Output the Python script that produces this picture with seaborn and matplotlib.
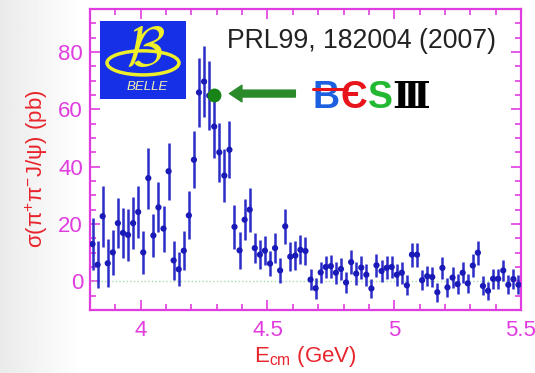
import numpy as np
import pandas as pd
import matplotlib
matplotlib.use("Agg")
import matplotlib.pyplot as plt
import seaborn as sns
from matplotlib.patches import Rectangle, Ellipse
from matplotlib.lines import Line2D
from matplotlib.ticker import FixedLocator, FixedFormatter, MultipleLocator

# Belle pi+pi- J/psi cross section, 20 MeV bins
energy = [3.81, 3.83, 3.85, 3.87, 3.89, 3.91, 3.93, 3.95, 3.97, 3.99,
          4.01, 4.03, 4.05, 4.07, 4.09, 4.11, 4.13, 4.15, 4.17, 4.19,
          4.21, 4.23, 4.25, 4.27, 4.29, 4.31, 4.33, 4.35, 4.37, 4.39,
          4.41, 4.43, 4.45, 4.47, 4.49, 4.51, 4.53, 4.55, 4.57, 4.59,
          4.61, 4.63, 4.65, 4.67, 4.69, 4.71, 4.73, 4.75, 4.77, 4.79,
          4.81, 4.83, 4.85, 4.87, 4.89, 4.91, 4.93, 4.95, 4.97, 4.99,
          5.01, 5.03, 5.05, 5.07, 5.09, 5.11, 5.13, 5.15, 5.17, 5.19,
          5.21, 5.23, 5.25, 5.27, 5.29, 5.31, 5.33, 5.35, 5.37, 5.39,
          5.41, 5.43, 5.45, 5.47, 5.49]
sigma = [13.0, 5.8, 22.7, 6.3, 10.1, 20.3, 16.9, 16.2, 20.3, 24.2,
         10.1, 36.0, 16.0, 25.8, 18.4, 38.4, 7.3, 4.2, 10.7, 23.0,
         42.4, 65.9, 69.7, 64.8, 54.0, 45.0, 36.9, 45.9, 19.0, 10.8,
         21.5, 25.0, 11.6, 9.3, 10.7, 6.2, 11.6, 3.8, 19.2, 8.6,
         9.0, 11.0, 10.6, 0.6, -2.4, 3.1, 5.0, 5.3, 3.0, 4.3,
         -0.4, 6.7, 2.7, 4.8, 2.3, -2.5, 5.6, 3.6, 4.7, 5.0,
         2.3, 3.0, -1.4, 9.3, 9.3, 0.4, 1.8, 1.5, -3.8, 4.7,
         -2.1, 1.3, -1.0, 3.0, -0.7, 5.5, 10.0, -1.6, -3.3, 0.9,
         0.9, 3.8, -1.2, 0.8, -1.2]
sigma_err = [9.0, 8.3, 10.6, 8.4, 7.8, 8.8, 8.7, 9.2, 9.1, 9.1,
             7.5, 10.6, 7.4, 8.7, 8.0, 10.0, 6.7, 6.0, 6.7, 8.4,
             9.9, 11.9, 12.4, 11.9, 11.0, 10.2, 9.3, 10.0, 7.7, 6.5,
             7.1, 7.7, 5.3, 5.0, 5.0, 4.5, 5.2, 4.3, 6.1, 5.0,
             5.0, 5.0, 4.8, 3.6, 3.6, 3.8, 4.0, 4.0, 3.8, 4.0,
             3.5, 4.2, 4.0, 4.0, 3.8, 3.4, 4.0, 4.0, 4.0, 4.0,
             3.8, 3.8, 3.5, 4.2, 4.2, 3.5, 3.6, 3.6, 3.3, 3.8,
             3.4, 3.6, 3.4, 3.7, 3.4, 3.9, 4.2, 3.3, 3.2, 3.5,
             3.5, 3.7, 3.3, 3.5, 3.3]

# BESIII measurement highlighted with an arrow
besiii_energy = 4.29
besiii_sigma = 65.0

x_ticks = [4.0, 4.5, 5.0, 5.5]
x_tick_labels = ["4", "4.5", "5", "5.5"]
y_ticks = [0, 20, 40, 60, 80]
y_tick_labels = ["0", "20", "40", "60", "80"]

MAGENTA = "#e03ce0"
RED = "#e8242c"
BAR_BLUE = "#2c2cc8"
DOT_BLUE = "#1a1ab8"

sns.set_theme(style="ticks")
plt.rcParams["font.family"] = ["Liberation Sans", "DejaVu Sans"]
plt.rcParams["mathtext.fontset"] = "custom"
plt.rcParams["mathtext.rm"] = "Liberation Sans"
plt.rcParams["mathtext.it"] = "Liberation Sans:italic"
plt.rcParams["mathtext.bf"] = "Liberation Sans:bold"

fig = plt.figure(figsize=(5.35, 3.73), dpi=100, facecolor="white")

# soft grey shading along the left edge of the slide
bg = fig.add_axes([0, 0, 1, 1], zorder=-10)
gx = np.linspace(0, 1, 300)
shade = 1.0 - 0.08 * np.clip(1 - gx / 0.15, 0, 1)
bg.imshow(np.tile(shade, (10, 1)), extent=[0, 1, 0, 1], aspect="auto",
          cmap="gray", vmin=0, vmax=1)
bg.set_axis_off()

ax = fig.add_axes([0.1682, 0.1689, 0.8056, 0.8070])
ax.set_facecolor("white")

df = pd.DataFrame({"E": energy, "sigma": sigma, "err": sigma_err})

ax.axhline(0, color="#a6dca6", lw=1.0, ls=(0, (1, 1.6)), zorder=1)
ax.errorbar(df["E"], df["sigma"], yerr=df["err"], xerr=0.006, fmt="none",
            ecolor=BAR_BLUE, elinewidth=1.8, capsize=0, zorder=2)
sns.scatterplot(data=df, x="E", y="sigma", ax=ax, color=DOT_BLUE, s=20,
                edgecolor="none", zorder=3, legend=False)

ax.set_xlim(3.8, 5.5)
ax.set_ylim(-10, 95)

ax.xaxis.set_major_locator(FixedLocator(x_ticks))
ax.xaxis.set_major_formatter(FixedFormatter(x_tick_labels))
ax.xaxis.set_minor_locator(MultipleLocator(0.1))
ax.yaxis.set_major_locator(FixedLocator(y_ticks))
ax.yaxis.set_major_formatter(FixedFormatter(y_tick_labels))
ax.yaxis.set_minor_locator(MultipleLocator(5))

ax.tick_params(which="both", direction="in", top=True, right=True,
               colors=MAGENTA, labelsize=16)
ax.tick_params(which="major", length=7.5, width=1.2)
ax.tick_params(which="minor", length=4, width=1.2)
ax.tick_params(axis="x", which="both", pad=7)
ax.tick_params(axis="y", which="both", pad=5)
for spine in ax.spines.values():
    spine.set_color(MAGENTA)
    spine.set_linewidth(1.6)

ax.set_ylabel(r"$\mathregular{\sigma(\pi^{+}\pi^{-}J/\psi)}$ (pb)",
              color=RED, fontsize=16)
ax.yaxis.set_label_coords(-0.093, 0.47)
ax.set_xlabel(r"E$_{\mathregular{cm}}$ (GeV)", color=RED, fontsize=16,
              labelpad=2)

# BESIII point and arrow
ax.plot([besiii_energy], [besiii_sigma], "o", color="#188418", ms=10,
        mec="none", zorder=5)
ax.annotate("", xy=(4.35, besiii_sigma + 0.5), xytext=(4.61, besiii_sigma + 0.5),
            arrowprops=dict(arrowstyle="simple,head_length=0.9,head_width=1.2,tail_width=0.5",
                            color="#2a8a2a", mutation_scale=10, shrinkA=0, shrinkB=0),
            zorder=5)

ax.text(0.318, 0.893, "PRL99, 182004 (2007)", transform=ax.transAxes,
        fontsize=19.2, color="#222222", ha="left", va="center")

# Belle logo
ax.add_patch(Rectangle((0.0232, 0.701), 0.1995, 0.259, transform=ax.transAxes,
                       facecolor="#1530e6", edgecolor="none", zorder=6))
ax.add_patch(Ellipse((0.123, 0.821), 0.167, 0.080, transform=ax.transAxes,
                     facecolor="none", edgecolor="#eeee2a", lw=2.5, zorder=7))
ax.text(0.128, 0.857, r"$\mathcal{B}$", transform=ax.transAxes,
        math_fontfamily="cm", fontsize=40, color="#eeee2a",
        ha="center", va="center", zorder=7)
ax.text(0.132, 0.742, "BELLE", transform=ax.transAxes, fontsize=9.5,
        style="italic", color="#f2eeb0", ha="center", va="center", zorder=7)

# BESIII logo
logo_font = ["Liberation Sans", "DejaVu Sans"]
ax.add_line(Line2D([0.518, 0.596], [0.733, 0.733], transform=ax.transAxes,
                   color="#e8141c", lw=2.2, zorder=8))
for letter, xpos, col, fam in [("B", 0.547, "#1c60e0", logo_font),
                               ("\u0404", 0.612, "#e8141c", logo_font),
                               ("S", 0.674, "#22b832", logo_font),
                               ("\u2162", 0.746, "black", ["DejaVu Serif", "DejaVu Sans"])]:
    ax.text(xpos, 0.671, letter, transform=ax.transAxes, fontsize=27,
            fontweight="bold", family=fam, color=col, ha="center",
            va="baseline", zorder=7)

fig.savefig("out.png", dpi=100, facecolor=fig.get_facecolor())
